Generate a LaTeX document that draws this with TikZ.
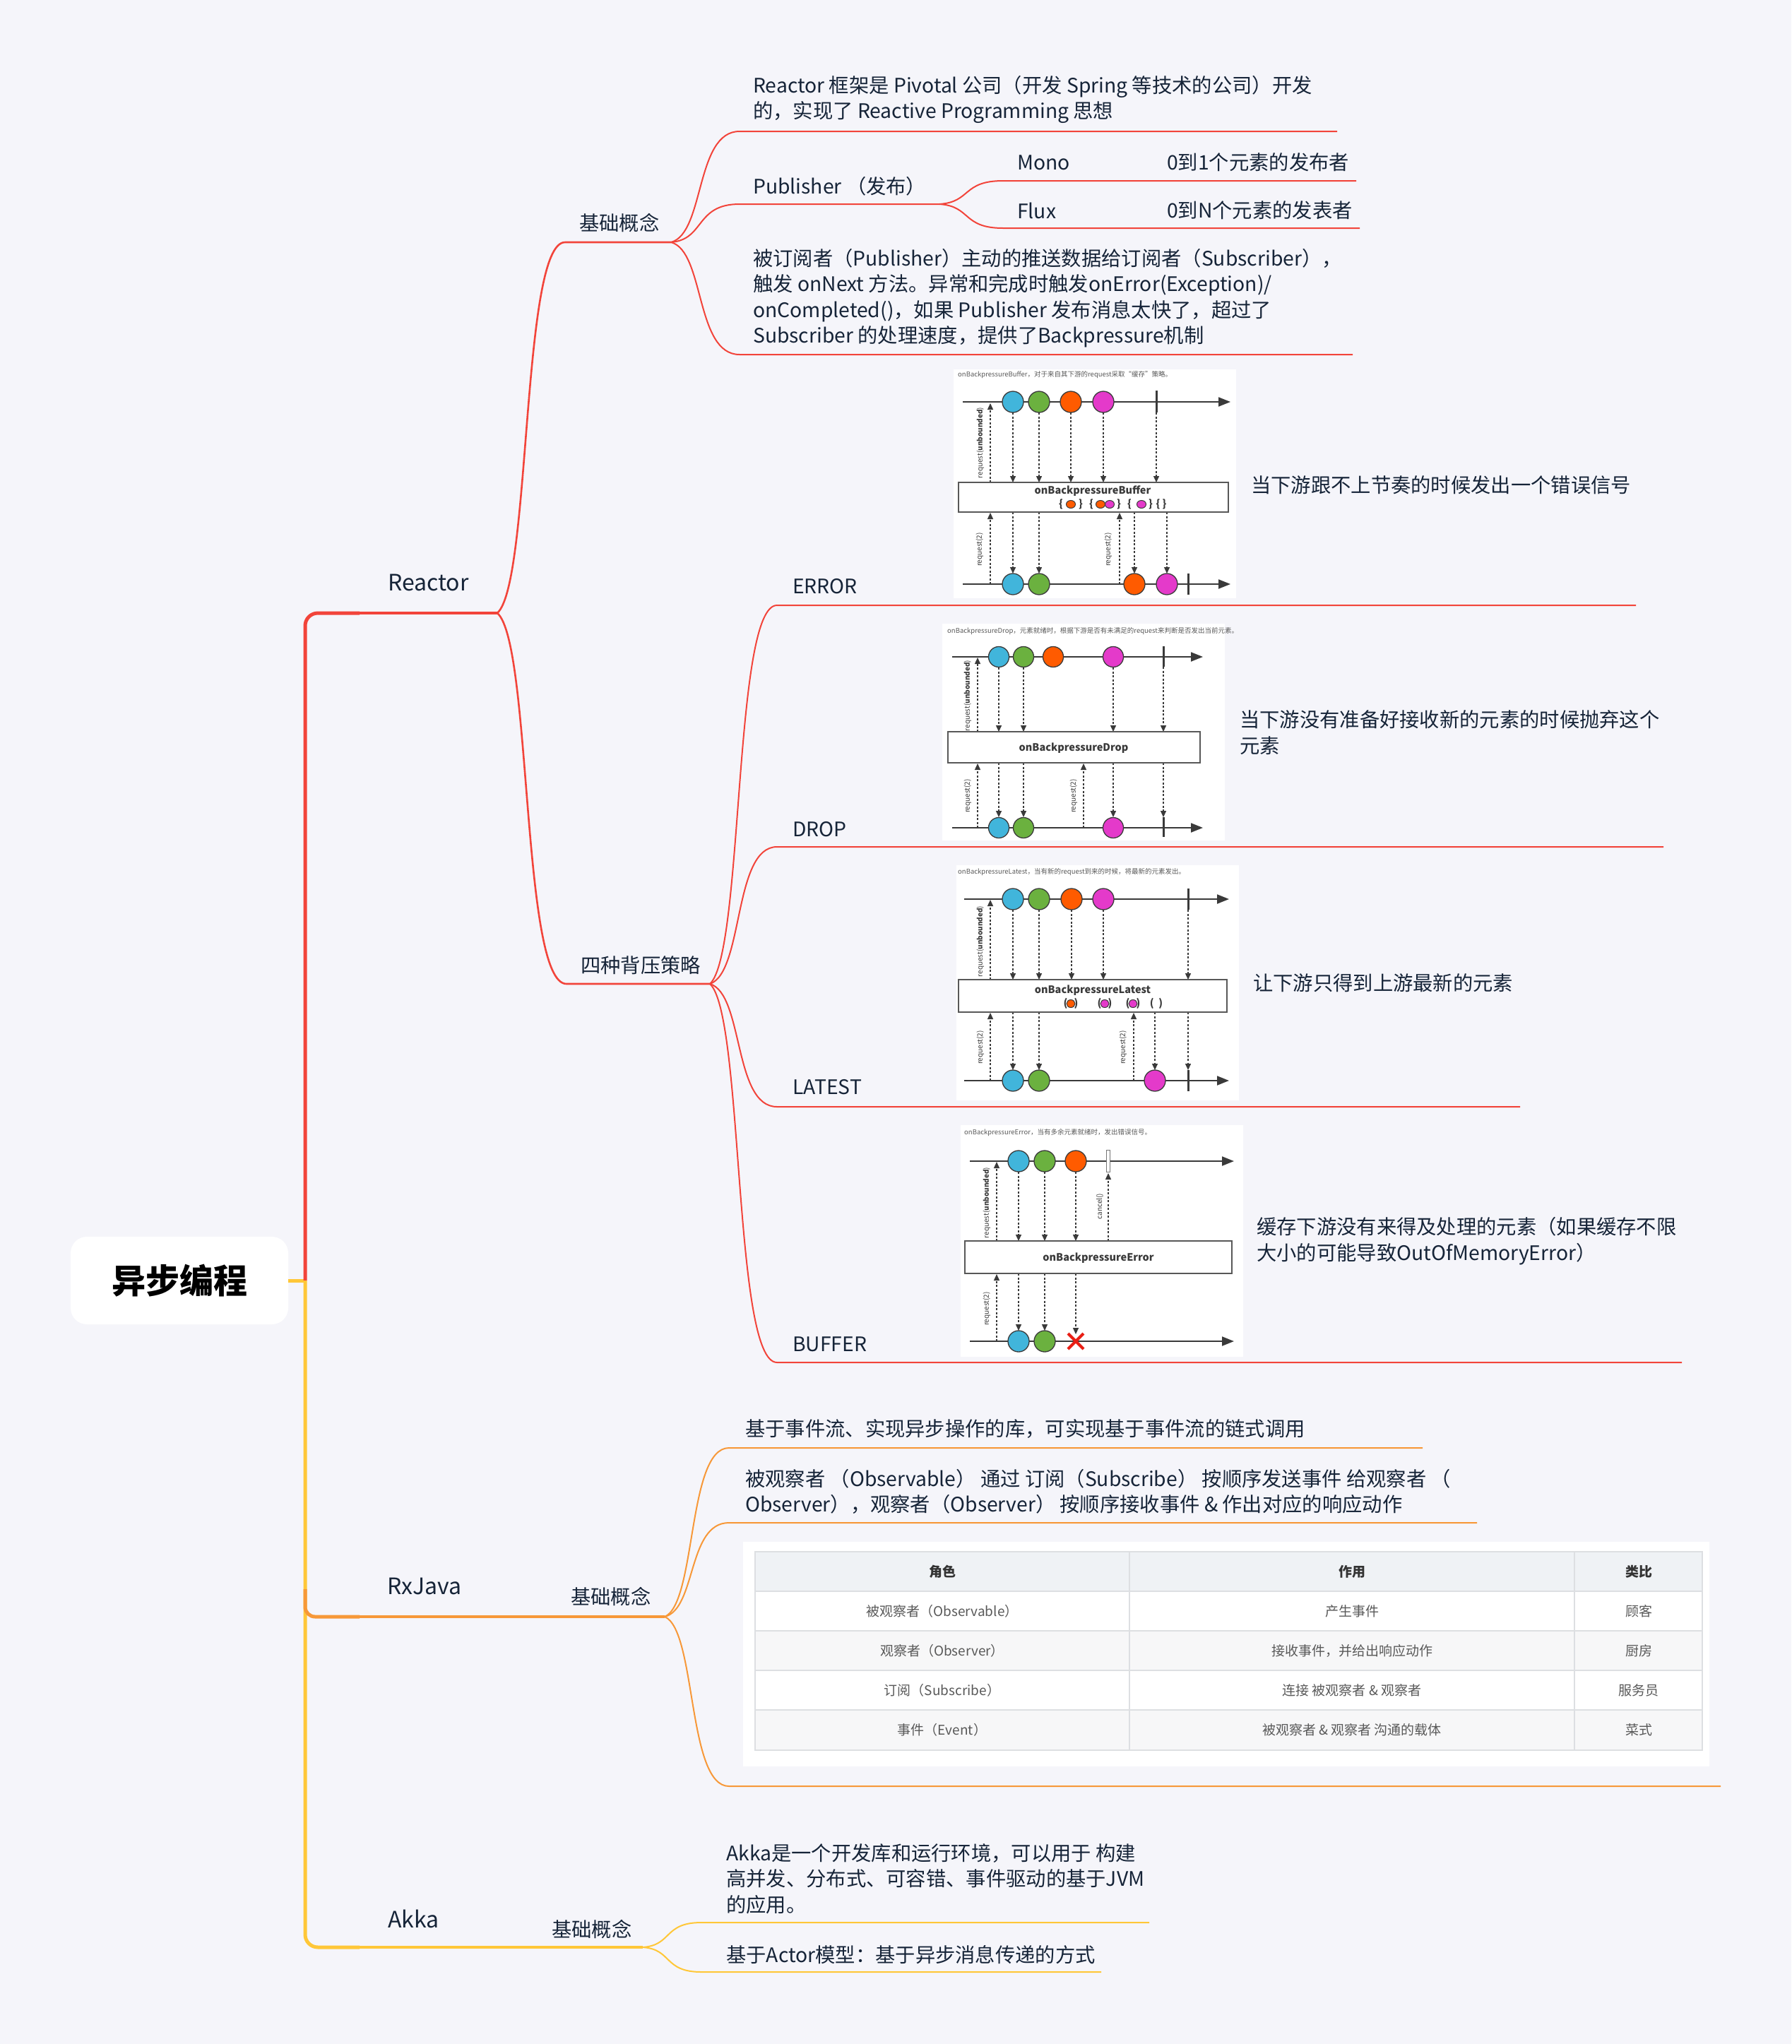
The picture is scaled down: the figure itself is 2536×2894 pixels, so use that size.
\documentclass[tikz,border=0pt]{standalone}
\usepackage{fontspec}
\setmainfont{Noto Sans CJK SC}
\usetikzlibrary{arrows.meta}

\definecolor{bgcol}{RGB}{245,245,250}
\definecolor{inkcol}{RGB}{22,36,56}
\definecolor{reactorcol}{RGB}{242,68,58}
\definecolor{rxcol}{RGB}{247,152,56}
\definecolor{akkacol}{RGB}{255,199,56}
\definecolor{mblue}{RGB}{65,181,219}
\definecolor{mgreen}{RGB}{107,177,63}
\definecolor{morange}{RGB}{255,91,0}
\definecolor{mpink}{RGB}{228,58,202}
\definecolor{mink}{RGB}{58,58,58}
\definecolor{xred}{RGB}{232,30,20}
\definecolor{tblline}{RGB}{221,223,226}
\definecolor{tblhead}{RGB}{239,242,245}
\definecolor{tblalt}{RGB}{247,247,248}

\tikzset{
  topic/.style={anchor=west, inner sep=0pt, text=inkcol, font=\fontsize{32}{40}\selectfont},
  subtopic/.style={anchor=west, inner sep=0pt, text=inkcol, font=\fontsize{28.3}{36}\selectfont},
  leaf/.style={anchor=west, inner sep=0pt, text=inkcol, align=left, font=\fontsize{28.3}{36.5}\selectfont},
  trunk/.style={line width=5pt},
  branch/.style={line width=3.5pt},
  twig/.style={line width=2pt},
  timeline/.style={draw=mink, line width=2pt, -{Triangle[length=17pt,width=13pt]}},
  pull/.style={draw=mink, line width=1.4pt, dash pattern=on 3pt off 2.5pt, -{Triangle[length=9pt,width=8pt]}},
  marble/.style={draw=mink, line width=1.3pt},
  opbox/.style={draw=mink!85, fill=white, line width=1.5pt},
  optitle/.style={inner sep=0pt, text=mink, font=\bfseries\fontsize{14.5}{16}\selectfont},
  shotcap/.style={anchor=west, inner sep=0pt, text=black!65, font=\fontsize{9.5}{11}\selectfont},
  reqlabel/.style={rotate=90, inner sep=0pt, text=mink, font=\fontsize{10}{12}\selectfont},
  cell/.style={inner sep=0pt, text=black!65, font=\fontsize{19}{22}\selectfont},
  headcell/.style={inner sep=0pt, text=black!80, font=\bfseries\fontsize{19}{22}\selectfont},
}

\begin{document}
\begin{tikzpicture}[x=1pt, y=-1pt]
  \useasboundingbox (0,0) rectangle (2536,2894);
  \fill[bgcol] (0,0) rectangle (2536,2894);

  % root
  \node[fill=white, rounded corners=23pt, minimum width=308pt, minimum height=124pt,
        font=\bfseries\fontsize{48}{56}\selectfont] (root) at (254,1813) {异步编程};

  \coordinate (trunkMid) at (432,1813);
  \coordinate (reactorStart) at (509,868);
  \coordinate (reactorEnd) at (704,868);
  \coordinate (rxFork) at (432,2250);
  \coordinate (rxStart) at (509,2289);
  \coordinate (rxEnd) at (941,2289);
  \coordinate (akkaStart) at (509,2757);
  \coordinate (akkaMid) at (700,2757);
  \coordinate (akkaEnd) at (910,2757);

  \draw[akkacol, trunk] (root.east) -- (trunkMid);
  \draw[reactorcol, trunk, rounded corners=18pt] (trunkMid) |- (reactorStart);
  \draw[reactorcol, branch] (reactorStart) -- (reactorEnd);
  \draw[akkacol, trunk, rounded corners=18pt] (trunkMid) |- (akkaStart);
  \draw[akkacol, branch] (akkaStart) -- (akkaMid) -- (akkaEnd);
  \draw[rxcol, trunk, rounded corners=14pt] (rxFork) |- (rxStart);
  \draw[rxcol, branch] (rxStart) -- (rxEnd);

  \node[topic] (reactor) at (549,825) {Reactor};
  \node[topic] (rxjava) at (548,2246) {RxJava};
  \node[topic] (akka) at (549,2717) {Akka};

  % Reactor / 基础概念
  \coordinate (rBaseS) at (800,343);
  \coordinate (rBaseE) at (950,343);
  \node[subtopic] (rBase) at (820,316) {基础概念};
  \draw[reactorcol, line width=2.6pt] (reactorEnd) .. controls +(48,-42) and +(-62,0) .. (rBaseS) -- (rBaseE);

  \coordinate (rIntroS) at (1047,186);
  \coordinate (rIntroE) at (1893,186);
  \node[leaf] (rIntro) at (1066,141) {Reactor 框架是 Pivotal 公司（开发 Spring 等技术的公司）开发\\的，实现了 Reactive Programming 思想};
  \draw[reactorcol, twig] (rBaseE) .. controls +(48,-13) and +(-63,0) .. (rIntroS) -- (rIntroE);

  \coordinate (rPubS) at (1047,289);
  \coordinate (rPubE) at (1330,289);
  \node[leaf] (rPub) at (1066,264) {Publisher （发布）};
  \draw[reactorcol, twig] (rBaseE) .. controls +(48,-4) and +(-63,0) .. (rPubS) -- (rPubE);

  \coordinate (rMonoS) at (1420,256);
  \coordinate (rMonoE) at (1920,256);
  \node[leaf] (rMono) at (1440,230) {Mono};
  \node[leaf] (rMonoNote) at (1652,230) {0到1个元素的发布者};
  \draw[reactorcol, twig] (rPubE) .. controls +(45,-3) and +(-58,0) .. (rMonoS) -- (rMonoE);

  \coordinate (rFluxS) at (1420,323);
  \coordinate (rFluxE) at (1925,323);
  \node[leaf] (rFlux) at (1440,298) {Flux};
  \node[leaf] (rFluxNote) at (1652,298) {0到N个元素的发表者};
  \draw[reactorcol, twig] (rPubE) .. controls +(45,3) and +(-58,0) .. (rFluxS) -- (rFluxE);

  \coordinate (rPushS) at (1047,502);
  \coordinate (rPushE) at (1915,502);
  \node[leaf] (rPush) at (1066,422) {被订阅者（Publisher）主动的推送数据给订阅者（Subscriber），\\触发 onNext 方法。异常和完成时触发onError(Exception)/\\onCompleted()，如果 Publisher 发布消息太快了，超过了\\Subscriber 的处理速度，提供了Backpressure机制};
  \draw[reactorcol, twig] (rBaseE) .. controls +(48,13) and +(-63,0) .. (rPushS) -- (rPushE);

  % Reactor / 四种背压策略
  \coordinate (rStratS) at (802,1393);
  \coordinate (rStratE) at (1005,1393);
  \node[subtopic] (rStrat) at (822,1367) {四种背压策略};
  \draw[reactorcol, line width=2.6pt] (reactorEnd) .. controls +(49,42) and +(-64,0) .. (rStratS) -- (rStratE);

  \coordinate (errS) at (1100,857);
  \coordinate (errE) at (2316,857);
  \node[subtopic] (err) at (1122,830) {ERROR};
  \node[leaf] (errNote) at (1771,687) {当下游跟不上节奏的时候发出一个错误信号};
  \draw[reactorcol, twig] (rStratE) .. controls +(48,-43) and +(-62,0) .. (errS) -- (errE);

  \coordinate (dropS) at (1100,1199);
  \coordinate (dropE) at (2355,1199);
  \node[subtopic] (drop) at (1122,1174) {DROP};
  \node[leaf] (dropNote) at (1755,1037) {当下游没有准备好接收新的元素的时候抛弃这个\\元素};
  \draw[reactorcol, twig] (rStratE) .. controls +(48,-16) and +(-62,0) .. (dropS) -- (dropE);

  \coordinate (latestS) at (1100,1567);
  \coordinate (latestE) at (2152,1567);
  \node[subtopic] (latest) at (1122,1539) {LATEST};
  \node[leaf] (latestNote) at (1774,1392) {让下游只得到上游最新的元素};
  \draw[reactorcol, twig] (rStratE) .. controls +(48,14) and +(-62,0) .. (latestS) -- (latestE);

  \coordinate (bufS) at (1100,1929);
  \coordinate (bufE) at (2381,1929);
  \node[subtopic] (buf) at (1122,1903) {BUFFER};
  \node[leaf] (bufNote) at (1779,1757) {缓存下游没有来得及处理的元素（如果缓存不限\\大小的可能导致OutOfMemoryError）};
  \draw[reactorcol, twig] (rStratE) .. controls +(48,43) and +(-62,0) .. (bufS) -- (bufE);

  % marble picture under ERROR
  \begin{scope}[shift={(1350,523)}]
    \fill[white] (0,0) rectangle (400,324);
    \node[shotcap] (shotA) at (6,8) {onBackpressureBuffer，对于来自其下游的request采取“缓存”策略。};
    \draw[timeline] (13,46) -- (392,46);
    \draw[timeline] (13,304) -- (392,304);
    \draw[pull] (52,160) -- (52,48);
    \draw[pull] (84,61) -- (84,160);
    \draw[pull] (121,61) -- (121,160);
    \draw[pull] (166,61) -- (166,160);
    \draw[pull] (212,61) -- (212,160);
    \draw[pull] (287,61) -- (287,160);
    \draw[pull] (52,304) -- (52,203);
    \draw[pull] (235,304) -- (235,203);
    \draw[pull] (84,202) -- (84,289);
    \draw[pull] (121,202) -- (121,289);
    \draw[pull] (256,202) -- (256,289);
    \draw[pull] (302,202) -- (302,289);
    \draw[opbox] (7,160) rectangle (389,202);
    \node[optitle] (shotAop) at (197,172) {onBackpressureBuffer};
    \node[optitle] (shotAq1) at (152,191) {\{};
    \draw[marble, fill=morange, line width=1pt] (166,191) ellipse[x radius=6.5, y radius=5.5];
    \node[optitle] (shotAq2) at (180,191) {\}};
    \node[optitle] (shotAq3) at (195,191) {\{};
    \draw[marble, fill=morange, line width=1pt] (208,191) ellipse[x radius=6.5, y radius=5.5];
    \draw[marble, fill=mpink, line width=1pt] (221,191) ellipse[x radius=6.5, y radius=5.5];
    \node[optitle] (shotAq4) at (234,191) {\}};
    \node[optitle] (shotAq5) at (249,191) {\{};
    \draw[marble, fill=mpink, line width=1pt] (266,191) ellipse[x radius=6.5, y radius=5.5];
    \node[optitle] (shotAq6) at (279,191) {\}};
    \node[optitle] (shotAq7) at (294,191) {\{~\}};
    \node[reqlabel] (shotAr1) at (38,104) {request(\textbf{unbounded})};
    \node[reqlabel] (shotAr2) at (37,255) {request(2)};
    \node[reqlabel] (shotAr3) at (219,255) {request(2)};
    \draw[mink, line width=3pt] (287,30) -- (287,61);
    \draw[mink, line width=3pt] (332,289) -- (332,319);
    \draw[marble, fill=mblue] (84,46) circle[radius=15];
    \draw[marble, fill=mgreen] (121,46) circle[radius=15];
    \draw[marble, fill=morange] (166,46) circle[radius=15];
    \draw[marble, fill=mpink] (212,46) circle[radius=15];
    \draw[marble, fill=mblue] (84,304) circle[radius=15];
    \draw[marble, fill=mgreen] (121,304) circle[radius=15];
    \draw[marble, fill=morange] (256,304) circle[radius=15];
    \draw[marble, fill=mpink] (302,304) circle[radius=15];
  \end{scope}

  % marble picture under DROP
  \begin{scope}[shift={(1334,883)}]
    \fill[white] (0,0) rectangle (400,307);
    \node[shotcap] (shotB) at (7,11) {onBackpressureDrop，元素就绪时，根据下游是否有未满足的request来判断是否发出当前元素。};
    \draw[timeline] (14,47) -- (369,47);
    \draw[timeline] (14,289) -- (369,289);
    \draw[pull] (50,153) -- (50,48);
    \draw[pull] (80,62) -- (80,153);
    \draw[pull] (115,62) -- (115,153);
    \draw[pull] (242,62) -- (242,153);
    \draw[pull] (313,61) -- (313,153);
    \draw[pull] (50,289) -- (50,198);
    \draw[pull] (200,289) -- (200,198);
    \draw[pull] (80,197) -- (80,274);
    \draw[pull] (115,197) -- (115,274);
    \draw[pull] (242,197) -- (242,274);
    \draw[pull] (313,197) -- (313,274);
    \draw[opbox] (8,153) rectangle (365,197);
    \node[optitle] (shotBop) at (186,176) {onBackpressureDrop};
    \node[reqlabel] (shotBr1) at (36,102) {request(\textbf{unbounded})};
    \node[reqlabel] (shotBr2) at (36,244) {request(2)};
    \node[reqlabel] (shotBr3) at (186,244) {request(2)};
    \draw[mink, line width=3pt] (313,32) -- (313,61);
    \draw[mink, line width=3pt] (313,274) -- (313,302);
    \draw[marble, fill=mblue] (80,47) circle[radius=14.5];
    \draw[marble, fill=mgreen] (115,47) circle[radius=14.5];
    \draw[marble, fill=morange] (157,47) circle[radius=14.5];
    \draw[marble, fill=mpink] (242,47) circle[radius=14.5];
    \draw[marble, fill=mblue] (80,289) circle[radius=14.5];
    \draw[marble, fill=mgreen] (115,289) circle[radius=14.5];
    \draw[marble, fill=mpink] (242,289) circle[radius=14.5];
  \end{scope}

  % marble picture under LATEST
  \begin{scope}[shift={(1354,1225)}]
    \fill[white] (0,0) rectangle (400,333);
    \node[shotcap] (shotC) at (2,10) {onBackpressureLatest，当有新的request到来的时候，将最新的元素发出。};
    \draw[timeline] (11,48) -- (386,48);
    \draw[timeline] (11,305) -- (386,305);
    \draw[pull] (48,162) -- (48,49);
    \draw[pull] (80,63) -- (80,162);
    \draw[pull] (117,63) -- (117,162);
    \draw[pull] (163,63) -- (163,162);
    \draw[pull] (208,63) -- (208,162);
    \draw[pull] (328,63) -- (328,162);
    \draw[pull] (48,305) -- (48,209);
    \draw[pull] (251,305) -- (251,209);
    \draw[pull] (80,208) -- (80,290);
    \draw[pull] (117,208) -- (117,290);
    \draw[pull] (281,208) -- (281,290);
    \draw[pull] (328,208) -- (328,290);
    \draw[opbox] (3,162) rectangle (383,208);
    \node[optitle] (shotCop) at (193,177) {onBackpressureLatest};
    \node[optitle] (shotCq1) at (162,196) {(\phantom{o})};
    \draw[marble, fill=morange, line width=1pt] (162,196) ellipse[x radius=6, y radius=5.5];
    \node[optitle] (shotCq2) at (210,196) {(\phantom{o})};
    \draw[marble, fill=mpink, line width=1pt] (210,196) ellipse[x radius=6, y radius=5.5];
    \node[optitle] (shotCq3) at (250,196) {(\phantom{o})};
    \draw[marble, fill=mpink, line width=1pt] (250,196) ellipse[x radius=6, y radius=5.5];
    \node[optitle] (shotCq4) at (283,196) {(~~)};
    \node[reqlabel] (shotCr1) at (34,108) {request(\textbf{unbounded})};
    \node[reqlabel] (shotCr2) at (34,258) {request(2)};
    \node[reqlabel] (shotCr3) at (236,258) {request(2)};
    \draw[mink, line width=3pt] (328,33) -- (328,63);
    \draw[mink, line width=3pt] (328,290) -- (328,320);
    \draw[marble, fill=mblue] (80,48) circle[radius=15];
    \draw[marble, fill=mgreen] (117,48) circle[radius=15];
    \draw[marble, fill=morange] (163,48) circle[radius=15];
    \draw[marble, fill=mpink] (208,48) circle[radius=15];
    \draw[marble, fill=mblue] (80,305) circle[radius=15];
    \draw[marble, fill=mgreen] (117,305) circle[radius=15];
    \draw[marble, fill=mpink] (281,305) circle[radius=15];
  \end{scope}

  % marble picture under BUFFER
  \begin{scope}[shift={(1360,1593)}]
    \fill[white] (0,0) rectangle (400,328);
    \node[shotcap] (shotD) at (5,11) {onBackpressureError，当有多余元素就绪时，发出错误信号。};
    \draw[timeline] (13,51) -- (387,51);
    \draw[timeline] (13,306) -- (387,306);
    \draw[pull] (51,164) -- (51,52);
    \draw[pull] (82,66) -- (82,164);
    \draw[pull] (119,66) -- (119,164);
    \draw[pull] (163,66) -- (163,164);
    \draw[pull] (209,164) -- (209,68);
    \draw[pull] (51,306) -- (51,211);
    \draw[pull] (82,210) -- (82,291);
    \draw[pull] (119,210) -- (119,291);
    \draw[pull] (163,210) -- (163,296);
    \draw[opbox] (6,164) rectangle (384,210);
    \node[optitle] (shotDop) at (195,188) {onBackpressureError};
    \node[reqlabel] (shotDr1) at (37,110) {request(\textbf{unbounded})};
    \node[reqlabel] (shotDr2) at (197,115) {cancel()};
    \node[reqlabel] (shotDr3) at (37,260) {request(2)};
    \draw[mink!70, fill=white, line width=1pt] (206.5,35) rectangle (211.5,66);
    \draw[marble, fill=mblue] (82,51) circle[radius=15];
    \draw[marble, fill=mgreen] (119,51) circle[radius=15];
    \draw[marble, fill=morange] (163,51) circle[radius=15];
    \draw[marble, fill=mblue] (82,306) circle[radius=15];
    \draw[marble, fill=mgreen] (119,306) circle[radius=15];
    \draw[xred, line width=4pt] (152,295) -- (174,317);
    \draw[xred, line width=4pt] (174,295) -- (152,317);
  \end{scope}

  % RxJava / 基础概念
  \node[subtopic] (rxBase) at (808,2261) {基础概念};

  \coordinate (rxIdeaS) at (1032,2050);
  \coordinate (rxIdeaE) at (2014,2050);
  \node[leaf] (rxIdea) at (1055,2023) {基于事件流、实现异步操作的库，可实现基于事件流的链式调用};
  \draw[rxcol, twig] (rxEnd) .. controls +(45,-19) and +(-59,0) .. (rxIdeaS) -- (rxIdeaE);

  \coordinate (rxFlowS) at (1032,2156);
  \coordinate (rxFlowE) at (2091,2156);
  \node[leaf] (rxFlow) at (1055,2112) {被观察者 （Observable） 通过 订阅（Subscribe） 按顺序发送事件 给观察者 （\\Observer），观察者（Observer） 按顺序接收事件 \& 作出对应的响应动作};
  \draw[rxcol, twig] (rxEnd) .. controls +(45,-11) and +(-59,0) .. (rxFlowS) -- (rxFlowE);

  \coordinate (rxTableS) at (1032,2529);
  \coordinate (rxTableE) at (2436,2529);
  \draw[rxcol, twig] (rxEnd) .. controls +(45,19) and +(-59,0) .. (rxTableS) -- (rxTableE);

  % role table
  \fill[white] (1052,2183) rectangle (2420,2501);
  \fill[tblhead] (1069,2197) rectangle (2410,2253);
  \fill[tblalt] (1069,2309) rectangle (2410,2365);
  \fill[tblalt] (1069,2421) rectangle (2410,2478);
  \draw[tblline, line width=1.5pt] (1069,2197) rectangle (2410,2478);
  \draw[tblline, line width=1.5pt] (1069,2253) -- (2410,2253);
  \draw[tblline, line width=1.5pt] (1069,2309) -- (2410,2309);
  \draw[tblline, line width=1.5pt] (1069,2365) -- (2410,2365);
  \draw[tblline, line width=1.5pt] (1069,2421) -- (2410,2421);
  \draw[tblline, line width=1.5pt] (1599,2197) -- (1599,2478);
  \draw[tblline, line width=1.5pt] (2229,2197) -- (2229,2478);
  \node[headcell] (hRole) at (1334,2225) {角色};
  \node[headcell] (hUse) at (1914,2225) {作用};
  \node[headcell] (hLike) at (2320,2225) {类比};
  \node[cell] (c11) at (1334,2281) {被观察者（Observable）};
  \node[cell] (c12) at (1914,2281) {产生事件};
  \node[cell] (c13) at (2320,2281) {顾客};
  \node[cell] (c21) at (1334,2337) {观察者（Observer）};
  \node[cell] (c22) at (1914,2337) {接收事件，并给出响应动作};
  \node[cell] (c23) at (2320,2337) {厨房};
  \node[cell] (c31) at (1334,2393) {订阅（Subscribe）};
  \node[cell] (c32) at (1914,2393) {连接 被观察者 \& 观察者};
  \node[cell] (c33) at (2320,2393) {服务员};
  \node[cell] (c41) at (1334,2449) {事件（Event）};
  \node[cell] (c42) at (1914,2449) {被观察者 \& 观察者 沟通的载体};
  \node[cell] (c43) at (2320,2449) {菜式};

  % Akka / 基础概念
  \node[subtopic] (akBase) at (781,2732) {基础概念};

  \coordinate (akIntroS) at (993,2722);
  \coordinate (akIntroE) at (1627,2722);
  \node[leaf] (akIntro) at (1028,2660) {Akka是一个开发库和运行环境，可以用于 构建\\高并发、分布式、可容错、事件驱动的基于JVM\\的应用。};
  \draw[akkacol, twig] (akkaEnd) .. controls +(42,-3) and +(-54,0) .. (akIntroS) -- (akIntroE);

  \coordinate (akActorS) at (993,2792);
  \coordinate (akActorE) at (1559,2792);
  \node[leaf] (akActor) at (1028,2768) {基于Actor模型：基于异步消息传递的方式};
  \draw[akkacol, twig] (akkaEnd) .. controls +(42,3) and +(-54,0) .. (akActorS) -- (akActorE);

\end{tikzpicture}
\end{document}
